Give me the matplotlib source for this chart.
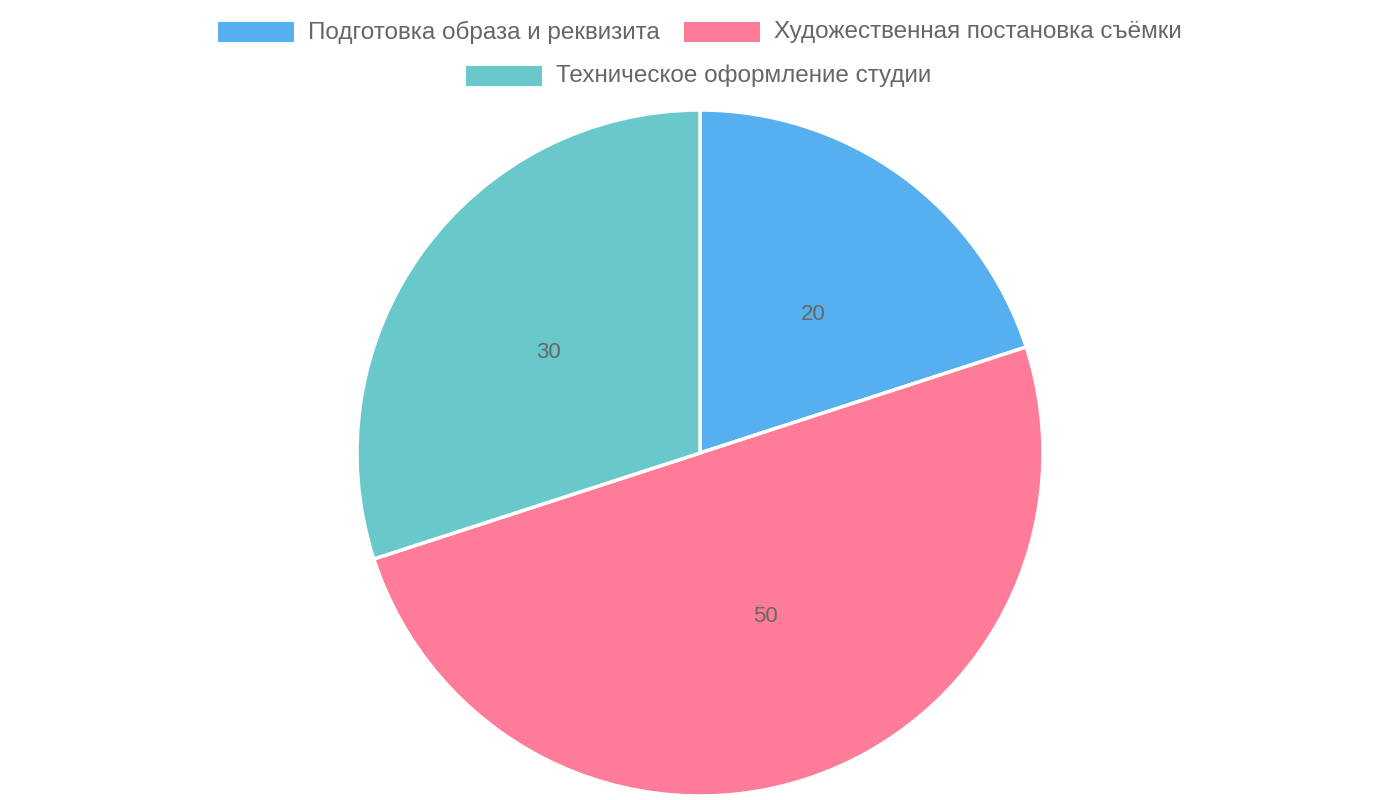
import matplotlib
matplotlib.use("Agg")
import matplotlib.pyplot as plt
from matplotlib.patches import Rectangle

labels = ["Подготовка образа и реквизита", "Художественная постановка съёмки", "Техническое оформление студии"]
values = [20, 50, 30]
colors = ["#56AFEF", "#FF7C98", "#69C9CA"]

plt.rcParams['font.family'] = ['Liberation Sans', 'DejaVu Sans']
W, H = 1400, 800
fig = plt.figure(figsize=(14, 8), dpi=100)
R = 343
cx, cy = 700, 453
ax = fig.add_axes([(cx - R) / W, 1 - (cy + R) / H, 2 * R / W, 2 * R / H])
wedges, texts = ax.pie(values, colors=colors, startangle=90, counterclock=False,
                       labels=[str(v) for v in values], labeldistance=0.5,
                       wedgeprops=dict(edgecolor="white", linewidth=2.5),
                       textprops=dict(color="#666666", fontsize=16))
ax.set_xlim(-1, 1)
ax.set_ylim(-1, 1)
ax.set_aspect("equal")
ax.axis("off")

# legend
pos = [(218, 22, 308), (684, 22, 774), (466, 66, 556)]
for (bx, by, tx), lab, c in zip(pos, labels, colors):
    fig.patches.append(Rectangle((bx / W, 1 - (by + 20) / H), 76 / W, 20 / H,
                                 transform=fig.transFigure, facecolor=c, edgecolor="none"))
    fig.text(tx / W, 1 - (by + 10) / H, lab, ha="left", va="center", fontsize=17.5, color="#666666")

fig.savefig("out.png", dpi=100)
